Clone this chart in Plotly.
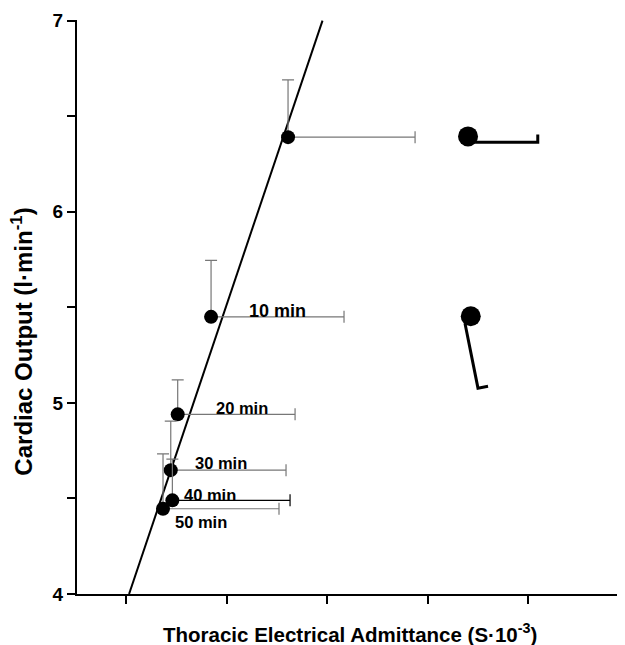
import plotly.graph_objects as go

# Data (x in axis units where ticks are at 1..5)
labels = ["", "10 min", "20 min", "30 min", "40 min", "50 min"]
adm = [2.612, 1.846, 1.514, 1.445, 1.461, 1.368]
co = [6.39, 5.45, 4.94, 4.648, 4.49, 4.446]
adm_err = [1.264, 1.323, 1.168, 1.147, 1.171, 1.154]
co_err = [0.30, 0.295, 0.18, 0.256, 0.216, 0.287]

fit_x = [1.030, 2.955]
fit_y = [4.0, 7.0]

# legend-like glyphs at right
leg_dot_x = [4.403, 4.43]
leg_dot_y = [6.394, 5.453]
leg1_x = [4.473, 5.097, 5.097]
leg1_y = [6.363, 6.363, 6.404]
leg2_x = [4.373, 4.502, 4.602]
leg2_y = [5.415, 5.077, 5.087]

label_x = [None, 2.51, 2.15, 1.94, 1.84, 1.75]
label_y = [None, 5.48, 4.975, 4.685, 4.52, 4.375]
label_size = [16, 18, 16.5, 16.5, 16.5, 16.5]

FONT = "Arial, Liberation Sans, sans-serif"

fig = go.Figure()

# regression line
fig.add_trace(go.Scatter(x=fit_x, y=fit_y, mode="lines",
                         line=dict(color="black", width=2), showlegend=False))

# error bars per point
for i in range(len(adm)):
    xcol = "black" if labels[i] == "40 min" else "#777777"
    fig.add_trace(go.Scatter(
        x=[adm[i]], y=[co[i]], mode="markers",
        marker=dict(color="black", size=14),
        error_x=dict(type="data", symmetric=False, array=[adm_err[i]], arrayminus=[0],
                     color=xcol, thickness=1.2, width=6),
        error_y=dict(type="data", symmetric=False, array=[co_err[i]], arrayminus=[0],
                     color="#777777", thickness=1.2, width=6),
        showlegend=False))

# legend glyphs
fig.add_trace(go.Scatter(x=leg1_x, y=leg1_y, mode="lines",
                         line=dict(color="black", width=3), showlegend=False))
fig.add_trace(go.Scatter(x=leg2_x, y=leg2_y, mode="lines",
                         line=dict(color="black", width=3), showlegend=False))
fig.add_trace(go.Scatter(x=leg_dot_x, y=leg_dot_y, mode="markers",
                         marker=dict(color="black", size=20), showlegend=False))

for i in range(len(labels)):
    if labels[i]:
        fig.add_annotation(x=label_x[i], y=label_y[i], text="<b>%s</b>" % labels[i],
                           showarrow=False, font=dict(size=label_size[i], color="black", family=FONT))

fig.add_annotation(xref="paper", yref="paper", x=0.499, y=-0.068,
                   xanchor="center", yanchor="middle",
                   text="<b>Thoracic Electrical Admittance (S·10<sup>-3</sup>)</b>",
                   showarrow=False, font=dict(size=20.5, color="black", family=FONT))
fig.add_annotation(xref="paper", yref="paper", x=-0.100, y=0.440, textangle=-90,
                   xanchor="center", yanchor="middle",
                   text="<b>Cardiac Output (l·min<sup>-1</sup>)</b>",
                   showarrow=False, font=dict(size=24, color="black", family=FONT))

yt = [4, 4.5, 5, 5.5, 6, 6.5, 7]
ytxt = ["<b>4</b>", "", "<b>5</b>", "", "<b>6</b>", "", "<b>7</b>"]

fig.update_layout(
    width=617, height=637,
    margin=dict(l=69, r=0, t=12, b=51),
    paper_bgcolor="white", plot_bgcolor="white",
    font=dict(family=FONT, color="black"),
    xaxis=dict(range=[0.512, 5.965], showgrid=False, zeroline=False,
               showline=True, linecolor="black", linewidth=2,
               ticks="outside", ticklen=8, tickwidth=2, tickcolor="black",
               tickvals=[1, 2, 3, 4, 5], showticklabels=False),
    yaxis=dict(range=[4, 7.003], showgrid=False, zeroline=False,
               showline=True, linecolor="black", linewidth=2,
               ticks="outside", ticklen=8, tickwidth=2, tickcolor="black",
               tickvals=yt, ticktext=ytxt,
               tickfont=dict(size=19, family=FONT, color="black")),
)

fig.write_html("out.html")
